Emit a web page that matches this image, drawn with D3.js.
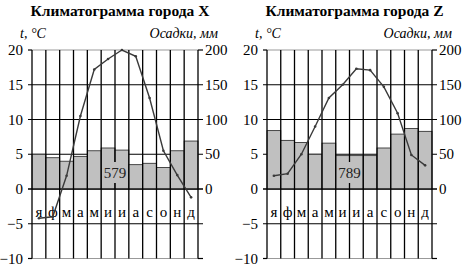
<!DOCTYPE html>
<html>
<head>
<meta charset="utf-8">
<script src="https://cdn.jsdelivr.net/npm/d3@7"></script>
<style>
  html, body { margin: 0; padding: 0; background: #fff; }
</style>
</head>
<body>
<svg id="chart" width="464" height="273"></svg>
<script>
// --- data ---
const months = ['я', 'ф', 'м', 'а', 'м', 'и', 'и', 'а', 'с', 'о', 'н', 'д'];
const tempTicks = [20, 15, 10, 5, 0, -5, -10];
const precipTicks = [200, 150, 100, 50, 0];

const cityXTitle = 'Климатограмма города X';
const cityXTemp = [-4.2, -4.0, 1.9, 10.5, 17.2, 18.7, 20.0, 19.1, 13.1, 5.5, 2.0, -1.2];
const cityXPrecip = [50, 45, 40, 47, 55, 59, 56, 35, 37, 31, 55, 69];
const cityXTotal = 579;

const cityZTitle = 'Климатограмма города Z';
const cityZTemp = [1.9, 2.2, 5.0, 9.0, 13.1, 15.0, 17.3, 17.1, 14.7, 10.9, 4.9, 3.4];
const cityZPrecip = [84, 70, 67, 50, 66, 48, 48, 48, 59, 79, 87, 83];
const cityZTotal = 789;

const FONT = '"Liberation Serif"';
const svg = d3.select('#chart');

function txt(g, x, y, s, size) {
    return g.append('text')
        .attr('x', x).attr('y', y)
        .style('font-family', FONT)
        .attr('font-size', size)
        .text(s);
}

function drawChart(opts) {
    const { left, right, title, temp, precip, total } = opts;
    const top = 50, bottom = 258.5;

    const x = d3.scaleBand().domain(d3.range(12)).range([left, right]).paddingInner(0).paddingOuter(0);
    const y = d3.scaleLinear().domain([-10, 20]).range([bottom, top]);
    const yP = d3.scaleLinear().domain([-100, 200]).range([bottom, top]);

    const g = svg.append('g');

    // title
    txt(g, (left + right) / 2 + 5, 16, title, 15.5)
        .attr('text-anchor', 'middle')
        .attr('font-weight', 'bold');

    // axis captions
    txt(g, left - 12, 38, 't, °C', 14).attr('font-style', 'italic');
    txt(g, right + 20, 38, 'Осадки, мм', 14)
        .attr('text-anchor', 'end')
        .attr('font-style', 'italic');

    // horizontal grid + ticks
    tempTicks.forEach(t => {
        const edge = (t === 20 || t === -10);
        g.append('line')
            .attr('x1', edge ? left : left - 4).attr('x2', edge ? right : right + 5)
            .attr('y1', y(t)).attr('y2', y(t))
            .attr('stroke', edge ? '#999' : '#000')
            .attr('stroke-width', 1.2);
        if (edge) {
            g.append('line').attr('x1', left - 4).attr('x2', left).attr('y1', y(t)).attr('y2', y(t)).attr('stroke', '#000').attr('stroke-width', 1.2);
            g.append('line').attr('x1', right).attr('x2', right + 5).attr('y1', y(t)).attr('y2', y(t)).attr('stroke', '#000').attr('stroke-width', 1.2);
        }
        txt(g, left - 9, y(t) + 5, t < 0 ? '\u2212' + Math.abs(t) : t, 15)
            .attr('text-anchor', 'end');
    });
    precipTicks.forEach(p => {
        txt(g, right + 7, yP(p) + 5, p, 15);
    });

    // precipitation bars
    g.selectAll('rect.bar').data(precip).join('rect')
        .attr('class', 'bar')
        .attr('x', (d, i) => x(i))
        .attr('width', x.bandwidth())
        .attr('y', d => yP(d))
        .attr('height', d => yP(0) - yP(d))
        .attr('fill', '#c0c0c0')
        .attr('stroke', '#222')
        .attr('stroke-width', 0.8);

    // vertical lines
    d3.range(13).forEach(i => {
        const xx = i < 12 ? x(i) : right;
        g.append('line')
            .attr('x1', xx).attr('x2', xx)
            .attr('y1', y(20)).attr('y2', y(-10))
            .attr('stroke', '#000')
            .attr('stroke-width', 1.3);
    });
    // redraw line at 0 on top of bars
    g.append('line')
        .attr('x1', left - 4).attr('x2', right + 5)
        .attr('y1', y(0)).attr('y2', y(0))
        .attr('stroke', '#000').attr('stroke-width', 1.2);

    // total label with grey background
    const cx = x(6), cy = 173;
    g.append('rect')
        .attr('x', cx - 11).attr('y', cy - 11)
        .attr('width', 22).attr('height', 21)
        .attr('fill', '#c0c0c0');
    txt(g, cx, cy + 5, total, 15)
        .attr('text-anchor', 'middle')
        .attr('fill', '#222');

    // month labels
    g.selectAll('text.month').data(months).join('text')
        .attr('class', 'month')
        .attr('x', (d, i) => x(i) + x.bandwidth() / 2)
        .attr('y', 217)
        .attr('text-anchor', 'middle')
        .style('font-family', FONT)
        .attr('font-size', 15)
        .text(d => d);

    // temperature line
    const line = d3.line()
        .x((d, i) => x(i) + x.bandwidth() / 2)
        .y(d => y(d));
    g.append('path')
        .datum(temp)
        .attr('d', line)
        .attr('fill', 'none')
        .attr('stroke', '#3a3a3a')
        .attr('stroke-width', 1.4);
    g.selectAll('circle.pt').data(temp).join('circle')
        .attr('class', 'pt')
        .attr('cx', (d, i) => x(i) + x.bandwidth() / 2)
        .attr('cy', d => y(d))
        .attr('r', 1.3)
        .attr('fill', '#3a3a3a');
}

drawChart({ left: 32, right: 198, title: cityXTitle, temp: cityXTemp, precip: cityXPrecip, total: cityXTotal });
drawChart({ left: 267, right: 432, title: cityZTitle, temp: cityZTemp, precip: cityZPrecip, total: cityZTotal });
</script>
</body>
</html>
